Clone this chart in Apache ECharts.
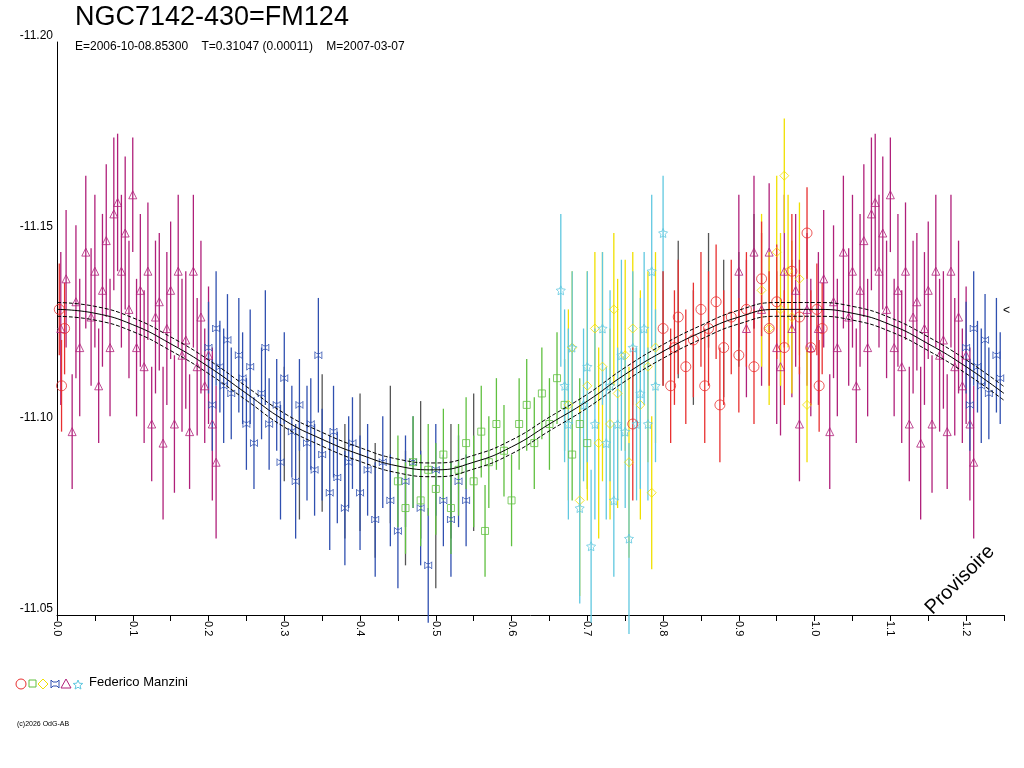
<!DOCTYPE html>
<html>
<head>
<meta charset="utf-8">
<script src="https://cdn.jsdelivr.net/npm/echarts@6/dist/echarts.min.js"></script>
<style>
  html, body { margin: 0; padding: 0; background: #fff; }
  #chart { width: 1024px; height: 768px; }
</style>
</head>
<body>
<div id="chart"></div>
<script>
// [phase, mag, error]
const magentaTri = [
  [0.005,-11.125,0.02],[0.012,-11.138,0.018],[0.02,-11.098,0.015],[0.025,-11.132,0.02],[0.03,-11.12,0.018],
  [0.038,-11.145,0.02],[0.045,-11.128,0.018],[0.05,-11.14,0.02],[0.055,-11.11,0.015],[0.06,-11.135,0.02],
  [0.065,-11.148,0.02],[0.07,-11.12,0.018],[0.075,-11.155,0.02],[0.08,-11.158,0.018],[0.085,-11.14,0.02],
  [0.09,-11.15,0.02],[0.095,-11.13,0.018],[0.1,-11.16,0.015],[0.105,-11.12,0.018],[0.11,-11.135,0.02],
  [0.115,-11.115,0.02],[0.12,-11.14,0.018],[0.125,-11.1,0.015],[0.13,-11.128,0.02],[0.135,-11.132,0.018],
  [0.14,-11.095,0.02],[0.145,-11.125,0.02],[0.15,-11.135,0.018],[0.155,-11.1,0.018],[0.16,-11.14,0.02],
  [0.165,-11.118,0.02],[0.17,-11.122,0.018],[0.175,-11.098,0.015],[0.18,-11.14,0.02],[0.185,-11.115,0.018],
  [0.19,-11.128,0.02],[0.195,-11.11,0.015],[0.2,-11.118,0.018],[0.205,-11.1,0.02],[0.21,-11.09,0.02],
  [0.9,-11.14,0.02],[0.91,-11.125,0.018],[0.92,-11.145,0.02],[0.93,-11.13,0.02],[0.94,-11.145,0.018],
  [0.95,-11.12,0.02],[0.955,-11.115,0.018],[0.96,-11.14,0.02],[0.97,-11.125,0.018],[0.975,-11.135,0.02],
  [0.98,-11.1,0.015],[0.99,-11.13,0.02],[0.995,-11.12,0.018]
];
const blueCross = [
  [0.2,-11.12,0.012],[0.205,-11.105,0.012],[0.21,-11.125,0.015],[0.215,-11.115,0.012],[0.22,-11.11,0.015],
  [0.225,-11.122,0.012],[0.23,-11.108,0.012],[0.24,-11.118,0.015],[0.245,-11.112,0.012],[0.25,-11.1,0.012],
  [0.255,-11.115,0.015],[0.26,-11.095,0.012],[0.27,-11.108,0.012],[0.275,-11.12,0.015],[0.28,-11.1,0.012],
  [0.29,-11.105,0.012],[0.295,-11.09,0.015],[0.3,-11.112,0.012],[0.31,-11.098,0.012],[0.315,-11.085,0.015],
  [0.32,-11.105,0.012],[0.33,-11.095,0.015],[0.335,-11.1,0.012],[0.34,-11.088,0.012],[0.345,-11.118,0.015],
  [0.35,-11.092,0.012],[0.36,-11.082,0.015],[0.365,-11.098,0.012],[0.37,-11.086,0.012],[0.38,-11.078,0.015],
  [0.385,-11.09,0.012],[0.39,-11.095,0.012],[0.4,-11.082,0.015],[0.41,-11.088,0.012],[0.42,-11.075,0.015],
  [0.43,-11.09,0.012],[0.44,-11.08,0.012],[0.45,-11.072,0.015],[0.46,-11.085,0.012],[0.47,-11.09,0.012],
  [0.48,-11.078,0.015],[0.49,-11.063,0.015],[0.5,-11.088,0.012],[0.51,-11.08,0.012],[0.52,-11.075,0.015],
  [0.53,-11.085,0.012],[0.54,-11.08,0.012]
];
const grayBars = [
  [0.3,-11.1,0.015],[0.32,-11.09,0.015],[0.35,-11.095,0.018],[0.38,-11.085,0.015],[0.4,-11.09,0.018],
  [0.42,-11.08,0.015],[0.44,-11.092,0.018],[0.46,-11.078,0.015],[0.48,-11.088,0.018],[0.5,-11.072,0.015],
  [0.52,-11.085,0.015],[0.55,-11.09,0.018],[0.8,-11.125,0.015],[0.82,-11.13,0.018],[0.84,-11.12,0.015],
  [0.86,-11.135,0.015],[0.88,-11.125,0.018],[0.9,-11.13,0.015],[0.92,-11.14,0.015]
];
const greenSq = [
  [0.45,-11.085,0.012],[0.46,-11.078,0.012],[0.47,-11.09,0.012],[0.48,-11.08,0.012],[0.49,-11.088,0.012],
  [0.5,-11.083,0.012],[0.51,-11.092,0.012],[0.52,-11.078,0.012],[0.53,-11.088,0.012],[0.54,-11.095,0.012],
  [0.55,-11.085,0.012],[0.56,-11.098,0.012],[0.565,-11.072,0.012],[0.57,-11.09,0.012],[0.58,-11.1,0.012],
  [0.59,-11.093,0.012],[0.6,-11.08,0.012],[0.61,-11.1,0.012],[0.62,-11.105,0.012],[0.63,-11.095,0.012],
  [0.64,-11.108,0.012],[0.65,-11.1,0.012],[0.66,-11.112,0.012],[0.67,-11.105,0.012],[0.68,-11.092,0.012],
  [0.69,-11.1,0.012],[0.7,-11.095,0.012]
];
const yellowDia = [
  [0.675,-11.105,0.025],[0.68,-11.12,0.02],[0.69,-11.08,0.025],[0.7,-11.11,0.03],[0.71,-11.125,0.02],
  [0.715,-11.095,0.025],[0.72,-11.115,0.03],[0.73,-11.1,0.025],[0.735,-11.13,0.02],[0.74,-11.108,0.03],
  [0.75,-11.118,0.025],[0.755,-11.09,0.025],[0.76,-11.125,0.02],[0.77,-11.105,0.03],[0.78,-11.115,0.025],
  [0.785,-11.082,0.02],[0.79,-11.12,0.025],[0.93,-11.135,0.02],[0.94,-11.125,0.02],[0.95,-11.145,0.02],
  [0.955,-11.13,0.02],[0.96,-11.165,0.015],[0.965,-11.14,0.02],[0.97,-11.128,0.02],[0.98,-11.138,0.02],
  [0.99,-11.105,0.015]
];
const cyanStar = [
  [0.665,-11.135,0.02],[0.67,-11.11,0.02],[0.675,-11.1,0.025],[0.68,-11.12,0.02],[0.69,-11.078,0.025],
  [0.695,-11.105,0.02],[0.7,-11.115,0.025],[0.705,-11.068,0.02],[0.71,-11.1,0.025],[0.72,-11.125,0.02],
  [0.725,-11.095,0.02],[0.73,-11.11,0.025],[0.735,-11.08,0.02],[0.74,-11.1,0.02],[0.745,-11.118,0.025],
  [0.75,-11.098,0.02],[0.755,-11.07,0.025],[0.76,-11.12,0.02],[0.765,-11.1,0.02],[0.77,-11.108,0.025],
  [0.775,-11.125,0.02],[0.78,-11.1,0.02],[0.785,-11.14,0.02],[0.79,-11.11,0.02],[0.8,-11.15,0.015]
];
const redCirc = [
  [0.003,-11.13,0.012],[0.006,-11.11,0.012],[0.01,-11.125,0.012],[0.76,-11.1,0.02],
  [0.8,-11.125,0.015],[0.81,-11.11,0.015],[0.815,-11.12,0.015],[0.82,-11.128,0.015],[0.83,-11.115,0.015],
  [0.84,-11.122,0.015],[0.85,-11.13,0.015],[0.855,-11.11,0.015],[0.86,-11.125,0.015],[0.87,-11.132,0.015],
  [0.875,-11.105,0.015],[0.88,-11.12,0.015],[0.89,-11.128,0.015],[0.9,-11.118,0.015],[0.91,-11.13,0.015],
  [0.92,-11.115,0.015],[0.93,-11.138,0.015],[0.94,-11.125,0.015],[0.95,-11.132,0.015],[0.96,-11.12,0.015],
  [0.97,-11.14,0.015],[0.98,-11.128,0.015],[0.99,-11.15,0.012],[0.995,-11.12,0.015]
];
const modelPhase = [0,0.05,0.1,0.15,0.2,0.25,0.3,0.35,0.4,0.45,0.5,0.55,0.6,0.65,0.7,0.75,0.8,0.85,0.9,0.95,1.0,1.05,1.1,1.15,1.2,1.25];
const modelMag = [-11.130,-11.129,-11.126,-11.121,-11.115,-11.108,-11.101,-11.096,-11.092,-11.089,-11.088,-11.090,-11.094,-11.100,-11.106,-11.113,-11.119,-11.124,-11.128,-11.130,-11.130,-11.129,-11.126,-11.121,-11.115,-11.108];
const modelSpread = 0.0018;

// points at phase < 0.25 are repeated one cycle later
const wrap = d => d.concat(d.filter(p => p[0] < 0.25).map(p => [p[0] + 1, p[1], p[2]]));

const starPath = 'path://M0,-10 L2.9,-4 L9.5,-3.1 L4.7,1.5 L5.9,8.1 L0,5 L-5.9,8.1 L-4.7,1.5 L-9.5,-3.1 L-2.9,-4 Z';
const crossPath = 'path://M-6,-6 L-3,-3 L3,-3 L6,-6 L6,6 L3,3 L-3,3 L-6,6 Z';

const groups = [
  { data: grayBars, color: '#555555', symbol: 'none', size: 0 },
  { data: magentaTri, color: '#b0207a', symbol: 'triangle', size: 8 },
  { data: blueCross, color: '#3050b0', symbol: crossPath, size: 7 },
  { data: greenSq, color: '#60c040', symbol: 'rect', size: 7 },
  { data: yellowDia, color: '#f0e000', symbol: 'diamond', size: 9 },
  { data: cyanStar, color: '#60c8e0', symbol: starPath, size: 9 },
  { data: redCirc, color: '#e83030', symbol: 'circle', size: 10 }
];

const series = [];
groups.forEach(g => {
  const d = wrap(g.data);
  series.push({
    type: 'custom',
    silent: true,
    data: d,
    renderItem: (params, api) => {
      const x = api.value(0), y = api.value(1), e = api.value(2);
      const p1 = api.coord([x, y - e]);
      const p2 = api.coord([x, y + e]);
      return { type: 'line', shape: { x1: p1[0], y1: p1[1], x2: p2[0], y2: p2[1] },
               style: { stroke: g.color, lineWidth: 1.3 } };
    },
    z: 2
  });
  if (g.symbol !== 'none') {
    series.push({
      type: 'scatter',
      data: d.map(p => [p[0], p[1]]),
      symbol: g.symbol,
      symbolSize: g.size,
      itemStyle: { color: 'rgba(0,0,0,0)', borderColor: g.color, borderWidth: 1 },
      z: 3
    });
  }
});

const model = modelPhase.map((p, i) => [p, modelMag[i]]);
[[0, 'solid'], [modelSpread, 'dashed'], [-modelSpread, 'dashed']].forEach(([off, type]) => {
  series.push({
    type: 'line',
    data: model.map(p => [p[0], p[1] + off]),
    smooth: true,
    showSymbol: false,
    lineStyle: { color: '#000', width: 1, type: type },
    z: 4
  });
});

const star = [];
for (let i = 0; i < 10; i++) {
  const r = i % 2 ? 2.2 : 5, a = -Math.PI / 2 + i * Math.PI / 5;
  star.push([78 + r * Math.cos(a), 685 + r * Math.sin(a)]);
}

const chart = echarts.init(document.getElementById('chart'));
chart.setOption({
  animation: false,
  backgroundColor: '#fff',
  textStyle: { fontFamily: 'Liberation Sans, Arial, sans-serif' },
  grid: { left: 57, right: 20, top: 42, bottom: 153 },
  xAxis: {
    type: 'value', min: 0, max: 1.25, interval: 0.05,
    axisLine: { lineStyle: { color: '#000' } },
    axisTick: { length: 6, lineStyle: { color: '#000' } },
    splitLine: { show: false },
    axisLabel: {
      rotate: -90, color: '#000', fontSize: 11, margin: 6,
      formatter: v => (Math.round(v * 100) % 10 === 0 && v < 1.25) ? v.toFixed(1) : ''
    }
  },
  yAxis: {
    type: 'value', min: -11.20, max: -11.05, interval: 0.05, inverse: true,
    axisLine: { show: true, lineStyle: { color: '#000' } },
    axisTick: { show: false },
    splitLine: { show: false },
    axisLabel: { color: '#000', fontSize: 12, margin: 4, formatter: v => v.toFixed(2), verticalAlign: 'bottom' }
  },
  series: series,
  graphic: [
    { type: 'text', x: 75, y: 4, style: { text: 'NGC7142-430=FM124', fontSize: 27, fill: '#000', fontFamily: 'Liberation Sans, Arial' } },
    { type: 'text', x: 75, y: 41, style: { text: 'E=2006-10-08.85300    T=0.31047 (0.00011)    M=2007-03-07', fontSize: 12, fill: '#000' } },
    { type: 'text', x: 960, y: 580, rotation: Math.PI / 4, style: { text: 'Provisoire', fontSize: 20, fill: '#000', align: 'center', verticalAlign: 'middle' } },
    { type: 'text', x: 1003, y: 305, style: { text: '<', fontSize: 12, fill: '#000' } },
    { type: 'circle', shape: { cx: 21, cy: 684, r: 5 }, style: { fill: 'none', stroke: '#e83030' } },
    { type: 'rect', shape: { x: 29, y: 680, width: 7, height: 7 }, style: { fill: 'none', stroke: '#60c040' } },
    { type: 'polygon', shape: { points: [[43, 679], [48, 684], [43, 689], [38, 684]] }, style: { fill: 'none', stroke: '#f0e000' } },
    { type: 'polygon', shape: { points: [[51, 680], [53, 682], [57, 682], [59, 680], [59, 688], [57, 686], [53, 686], [51, 688]] }, style: { fill: 'none', stroke: '#3050b0' } },
    { type: 'polygon', shape: { points: [[66, 679], [71, 688], [61, 688]] }, style: { fill: 'none', stroke: '#b0207a' } },
    { type: 'polygon', shape: { points: star }, style: { fill: 'none', stroke: '#60c8e0' } },
    { type: 'text', x: 89, y: 676, style: { text: 'Federico Manzini', fontSize: 13, fill: '#000' } },
    { type: 'text', x: 17, y: 721, style: { text: '(c)2026 OdG-AB', fontSize: 7, fill: '#000' } }
  ]
});
</script>
</body>
</html>
